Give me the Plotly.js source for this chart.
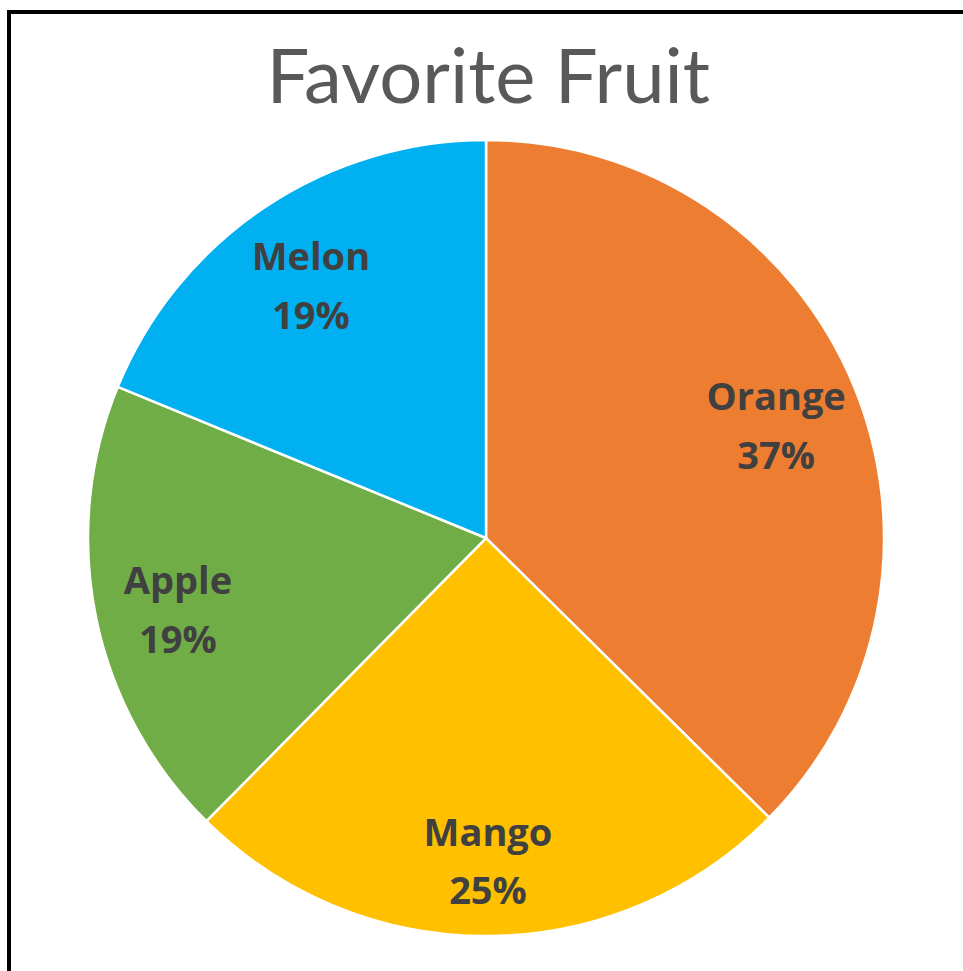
<!DOCTYPE html>
<html>
<head>
<meta charset="utf-8">
<script src="https://cdn.plot.ly/plotly-3.0.1.min.js"></script>
<style>
  html, body { margin: 0; padding: 0; background: #ffffff; overflow: hidden; }
  #chart { width: 963px; height: 971px; }
  #frame { position: absolute; left: 7px; top: 10px; width: 1000px; height: 1000px;
           border-left: 4px solid #000; border-top: 4px solid #000; pointer-events: none; }
</style>
</head>
<body>
<div id="chart"></div>
<div id="frame"></div>
<script>
const categories = ['Orange', 'Mango', 'Apple', 'Melon'];
const values = [37.4, 25, 18.8, 18.8];
const colors = ['#ED7D31', '#FFC000', '#70AD47', '#00B0F0'];
const chartTitle = 'Favorite Fruit';

// pie geometry; the label layer uses the same circle, nudged down slightly
const pieDomain = { x: [0.0914, 0.918], y: [0.036, 0.8558] };
const labelNudge = 0.0134;
const labelDomain = { x: pieDomain.x, y: [pieDomain.y[0] - labelNudge, pieDomain.y[1] - labelNudge] };
const labelRadius = 0.79;

// label angles derived from the values (middle of each slice, clockwise from 12 o'clock)
const total = values.reduce((a, b) => a + b, 0);
let cum = 0;
const labelTheta = values.map(v => { const mid = (cum + v / 2) / total * 360; cum += v; return mid; });
const percentText = values.map(v => Math.round(v / total * 100) + '%');

const pieTrace = {
  type: 'pie',
  labels: categories,
  values: values,
  sort: false,
  direction: 'clockwise',
  rotation: 0,
  marker: { colors: colors, line: { color: '#ffffff', width: 2.5 } },
  textinfo: 'none',
  hoverinfo: 'none',
  domain: pieDomain,
  showlegend: false
};

const labelFont = { family: 'Open Sans, sans-serif', size: 38, color: '#404040', weight: 'bold' };
// invisible anchor marker: only used to open a gap between the two label lines
const gapMarker = { size: 15, color: 'rgba(0,0,0,0)', line: { width: 0 } };

const nameTrace = {
  type: 'scatterpolar',
  mode: 'text+markers',
  theta: labelTheta,
  r: categories.map(() => labelRadius),
  text: categories,
  textposition: 'top center',
  textfont: labelFont,
  marker: gapMarker,
  hoverinfo: 'none',
  cliponaxis: false,
  showlegend: false
};

const pctTrace = {
  type: 'scatterpolar',
  mode: 'text+markers',
  theta: labelTheta,
  r: categories.map(() => labelRadius),
  text: percentText,
  textposition: 'bottom center',
  textfont: labelFont,
  marker: gapMarker,
  hoverinfo: 'none',
  cliponaxis: false,
  showlegend: false
};

const layout = {
  width: 963,
  height: 971,
  margin: { l: 0, r: 0, t: 0, b: 0 },
  paper_bgcolor: '#ffffff',
  title: {
    text: chartTitle,
    font: { family: 'Lato, sans-serif', size: 76, color: '#595959' },
    x: 0.507,
    xanchor: 'center',
    y: 0.9212,
    yanchor: 'middle'
  },
  polar: {
    domain: labelDomain,
    bgcolor: 'rgba(0,0,0,0)',
    angularaxis: { rotation: 90, direction: 'clockwise', visible: false, showgrid: false, showline: false, ticks: '' },
    radialaxis: { range: [0, 1], visible: false, showgrid: false, showline: false, ticks: '' }
  },
  showlegend: false
};

Plotly.newPlot('chart', [pieTrace, nameTrace, pctTrace], layout, { displayModeBar: false, staticPlot: true }).then(gd => {
  // keep the slice labels (polar text layer) above the pie slices
  const svg = gd.querySelector('.main-svg');
  const pie = svg.querySelector('.pielayer');
  const polar = svg.querySelector('.polarlayer');
  if (pie && polar) svg.insertBefore(pie, polar);
});
</script>
</body>
</html>
